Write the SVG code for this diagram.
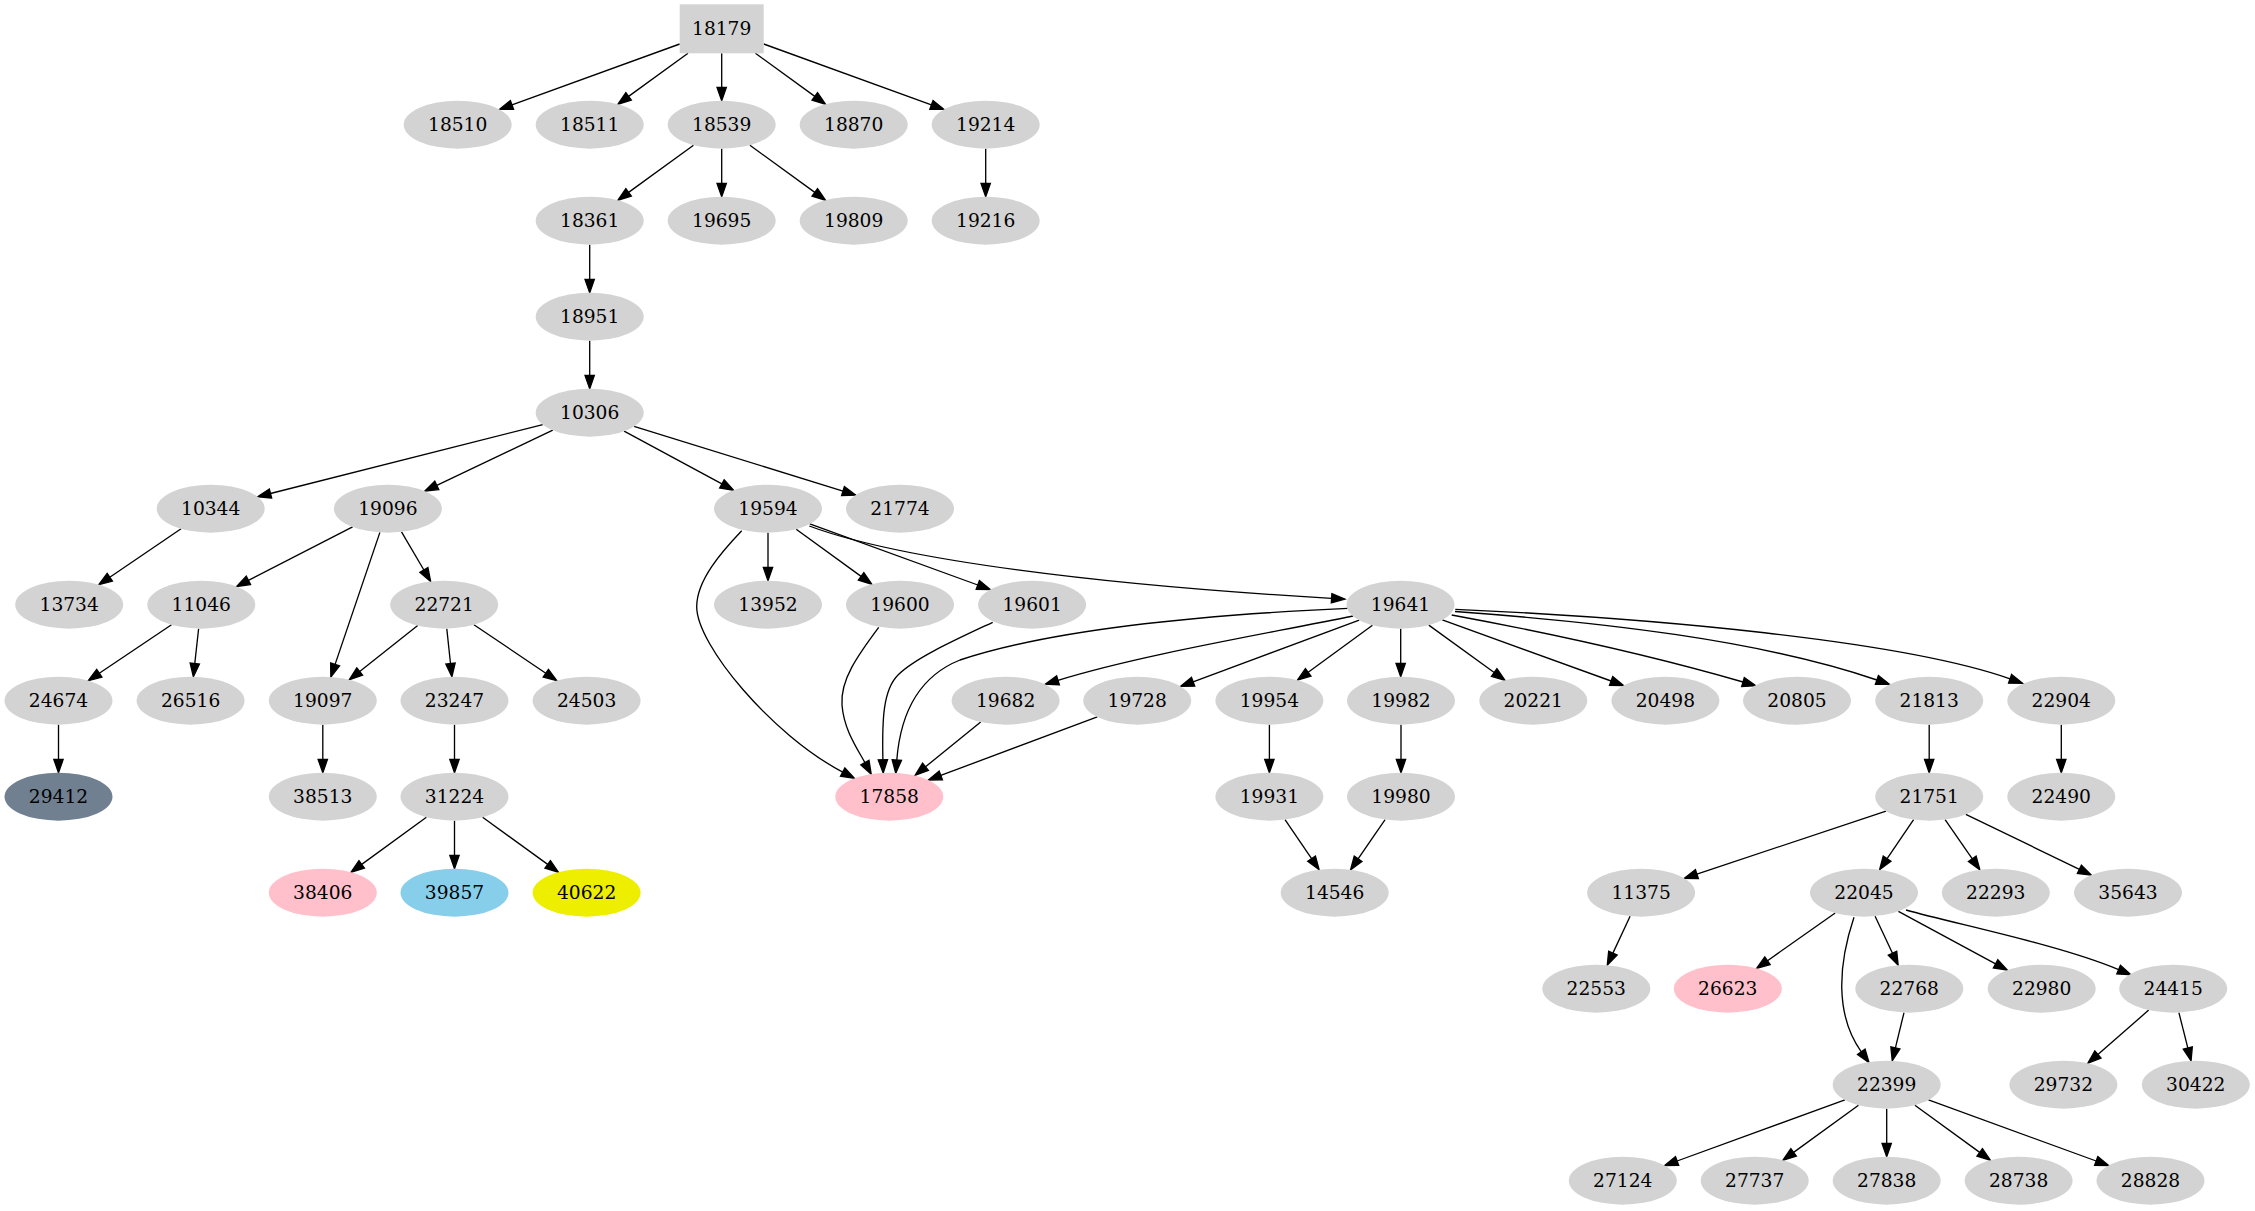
<svg xmlns="http://www.w3.org/2000/svg" width="2255" height="1211" viewBox="0 0 2255 1211">
<style>
.n ellipse,.n rect{fill:#d3d3d3;stroke:none}
.pink ellipse{fill:#ffc0cb}
.slate ellipse{fill:#708090}
.sky ellipse{fill:#87ceeb}
.yel ellipse{fill:#eeee00}
.n text{font-family:"DejaVu Serif","Liberation Serif",serif;font-size:18.67px;text-anchor:middle;fill:#000}
#edges path{fill:none;stroke:#000;stroke-width:1.33;marker-end:url(#ah)}
</style>
<defs>
<marker id="ah" markerUnits="userSpaceOnUse" markerWidth="16" markerHeight="12" refX="0" refY="6" orient="auto" overflow="visible">
<path d="M0,1.33 L13.3,6 L0,10.67 Z" fill="#000" stroke="#000" stroke-width="1.33"/>
</marker>
</defs>
<rect width="2255" height="1211" fill="#fff"/>
<g id="edges">
<path d="M679.7,44 L512,104.9"/>
<path d="M688,53.2 L628.6,96.4"/>
<path d="M721.7,53.2 L721.7,87.4"/>
<path d="M755.4,53.2 L814.8,96.4"/>
<path d="M763.7,44 L931.4,104.9"/>
<path d="M693.5,145.2 L628.6,192.4"/>
<path d="M721.7,148.7 L721.7,183.4"/>
<path d="M749.9,145.2 L814.8,192.4"/>
<path d="M985.7,148.7 L985.7,183.4"/>
<path d="M589.7,244.7 L589.7,279.4"/>
<path d="M589.7,340.7 L589.7,375.4"/>
<path d="M542.8,424.6 L270.5,493.5"/>
<path d="M552.8,430.2 L436.8,485.4"/>
<path d="M624.1,431.2 L721.9,483.9"/>
<path d="M634,426.4 L843,491.1"/>
<path d="M181.1,528.8 L109.8,577.2"/>
<path d="M352.6,526.9 L248.4,580.4"/>
<path d="M379.9,532.4 L335.1,664.4"/>
<path d="M401.5,531.9 L423.9,570"/>
<path d="M171.5,624.7 L99.3,673.3"/>
<path d="M198.6,628.7 L194.8,663.5"/>
<path d="M417.7,625.6 L359.7,671.5"/>
<path d="M446.8,628.7 L450.5,663.5"/>
<path d="M473.9,624.7 L545.8,673.2"/>
<path d="M58.5,724.7 L58.5,759.4"/>
<path d="M322.8,724.7 L322.8,759.4"/>
<path d="M454.5,724.7 L454.5,759.4"/>
<path d="M426.4,817.2 L361.7,864.4"/>
<path d="M454.5,820.7 L454.5,855.4"/>
<path d="M482.6,817.2 L547.7,864.4"/>
<path d="M768,532.7 L768,567.4"/>
<path d="M796.2,529.2 L861.1,576.4"/>
<path d="M809.8,523.9 L977.8,585"/>
<path d="M809.3,526 C900,560 1100,585 1331.6,598.3"/>
<path d="M741.7,530.7 C721.7,551.7 696.7,580 696.7,606.7 C696.7,645 771.9,734.8 842.7,772.1"/>
<path d="M878.7,627.3 C858,655 840,680 842,705 C844,730 857,748 864.9,762.6"/>
<path d="M992.7,622.3 C955,640 915,658 898,675 C883,690 882,720 882.9,759.7"/>
<path d="M1348,608.3 C1200,615 1050,630 960,660 C915,678 900,720 896.8,760"/>
<path d="M980.7,722 L925.5,766.8"/>
<path d="M1097.3,716.9 L940.8,775.4"/>
<path d="M1353.1,616 C1260,635 1140,655 1058,680.3"/>
<path d="M1359.2,620.2 L1193.1,681.8"/>
<path d="M1372.5,625.2 L1308.2,672.3"/>
<path d="M1400.7,628.7 L1400.7,663.4"/>
<path d="M1428.8,625.1 L1494.2,672.5"/>
<path d="M1442.3,619.9 L1611.1,681"/>
<path d="M1451.7,615 C1560,635 1660,658 1743,682"/>
<path d="M1455,611.5 C1600,622 1760,640 1876.9,680"/>
<path d="M1455.3,609.3 C1650,618 1900,640 2010.1,678.8"/>
<path d="M1269.4,724.7 L1269.4,759.4"/>
<path d="M1401,724.7 L1401,759.4"/>
<path d="M1285,819.7 L1311.6,858.7"/>
<path d="M1385.1,819.6 L1358.1,858.8"/>
<path d="M1929.2,724.7 L1929.2,759.4"/>
<path d="M2061.3,724.7 L2061.3,759.4"/>
<path d="M1886,811.1 L1696.9,874.1"/>
<path d="M1913.6,819.7 L1887.1,858.7"/>
<path d="M1945.1,819.6 L1972.3,858.8"/>
<path d="M1965.8,814.4 L2079.4,869.3"/>
<path d="M1630.1,916.2 L1612.9,953.1"/>
<path d="M1835.2,913 L1767.5,960.7"/>
<path d="M1875.1,916.2 L1892.5,953.2"/>
<path d="M1898.4,911.3 L1995.6,963.8"/>
<path d="M1906,910 C1960,925 2060,945 2118.6,969.6"/>
<path d="M1854,917.3 C1838,965 1835,1015 1861.3,1051.8"/>
<path d="M1904,1012.6 L1895.4,1047.9"/>
<path d="M2148.7,1010.1 L2097.9,1054.5"/>
<path d="M2178.9,1012.6 L2187.8,1047.9"/>
<path d="M1844.9,1099.9 L1677.1,1161"/>
<path d="M1858.5,1105.2 L1793.6,1152.4"/>
<path d="M1886.7,1108.7 L1886.7,1143.4"/>
<path d="M1914.9,1105.2 L1979.7,1152.4"/>
<path d="M1928.5,1099.9 L2096.2,1161"/>
</g>
<g id="n18179" class="n"><rect x="679.7" y="4.3" width="84" height="49"/><text x="721.7" y="35">18179</text></g>
<g id="n18510" class="n"><ellipse cx="457.7" cy="124.7" rx="54" ry="24"/><text x="457.7" y="131">18510</text></g>
<g id="n18511" class="n"><ellipse cx="589.7" cy="124.7" rx="54" ry="24"/><text x="589.7" y="131">18511</text></g>
<g id="n18539" class="n"><ellipse cx="721.7" cy="124.7" rx="54" ry="24"/><text x="721.7" y="131">18539</text></g>
<g id="n18870" class="n"><ellipse cx="853.7" cy="124.7" rx="54" ry="24"/><text x="853.7" y="131">18870</text></g>
<g id="n19214" class="n"><ellipse cx="985.7" cy="124.7" rx="54" ry="24"/><text x="985.7" y="131">19214</text></g>
<g id="n18361" class="n"><ellipse cx="589.7" cy="220.7" rx="54" ry="24"/><text x="589.7" y="227">18361</text></g>
<g id="n19695" class="n"><ellipse cx="721.7" cy="220.7" rx="54" ry="24"/><text x="721.7" y="227">19695</text></g>
<g id="n19809" class="n"><ellipse cx="853.7" cy="220.7" rx="54" ry="24"/><text x="853.7" y="227">19809</text></g>
<g id="n19216" class="n"><ellipse cx="985.7" cy="220.7" rx="54" ry="24"/><text x="985.7" y="227">19216</text></g>
<g id="n18951" class="n"><ellipse cx="589.7" cy="316.7" rx="54" ry="24"/><text x="589.7" y="323">18951</text></g>
<g id="n10306" class="n"><ellipse cx="589.7" cy="412.7" rx="54" ry="24"/><text x="589.7" y="419">10306</text></g>
<g id="n10344" class="n"><ellipse cx="210.7" cy="508.7" rx="54" ry="24"/><text x="210.7" y="515">10344</text></g>
<g id="n19096" class="n"><ellipse cx="387.9" cy="508.7" rx="54" ry="24"/><text x="387.9" y="515">19096</text></g>
<g id="n19594" class="n"><ellipse cx="768" cy="508.7" rx="54" ry="24"/><text x="768" y="515">19594</text></g>
<g id="n21774" class="n"><ellipse cx="900" cy="508.7" rx="54" ry="24"/><text x="900" y="515">21774</text></g>
<g id="n13734" class="n"><ellipse cx="69.2" cy="604.7" rx="54" ry="24"/><text x="69.2" y="611">13734</text></g>
<g id="n11046" class="n"><ellipse cx="201.3" cy="604.7" rx="54" ry="24"/><text x="201.3" y="611">11046</text></g>
<g id="n22721" class="n"><ellipse cx="444.2" cy="604.7" rx="54" ry="24"/><text x="444.2" y="611">22721</text></g>
<g id="n13952" class="n"><ellipse cx="768" cy="604.7" rx="54" ry="24"/><text x="768" y="611">13952</text></g>
<g id="n19600" class="n"><ellipse cx="900" cy="604.7" rx="54" ry="24"/><text x="900" y="611">19600</text></g>
<g id="n19601" class="n"><ellipse cx="1032.1" cy="604.7" rx="54" ry="24"/><text x="1032.1" y="611">19601</text></g>
<g id="n19641" class="n"><ellipse cx="1400.5" cy="604.7" rx="54" ry="24"/><text x="1400.5" y="611">19641</text></g>
<g id="n24674" class="n"><ellipse cx="58.5" cy="700.7" rx="54" ry="24"/><text x="58.5" y="707">24674</text></g>
<g id="n26516" class="n"><ellipse cx="190.6" cy="700.7" rx="54" ry="24"/><text x="190.6" y="707">26516</text></g>
<g id="n19097" class="n"><ellipse cx="322.8" cy="700.7" rx="54" ry="24"/><text x="322.8" y="707">19097</text></g>
<g id="n23247" class="n"><ellipse cx="454.5" cy="700.7" rx="54" ry="24"/><text x="454.5" y="707">23247</text></g>
<g id="n24503" class="n"><ellipse cx="586.6" cy="700.7" rx="54" ry="24"/><text x="586.6" y="707">24503</text></g>
<g id="n19682" class="n"><ellipse cx="1005.6" cy="700.7" rx="54" ry="24"/><text x="1005.6" y="707">19682</text></g>
<g id="n19728" class="n"><ellipse cx="1137.2" cy="700.7" rx="54" ry="24"/><text x="1137.2" y="707">19728</text></g>
<g id="n19954" class="n"><ellipse cx="1269.4" cy="700.7" rx="54" ry="24"/><text x="1269.4" y="707">19954</text></g>
<g id="n19982" class="n"><ellipse cx="1401" cy="700.7" rx="54" ry="24"/><text x="1401" y="707">19982</text></g>
<g id="n20221" class="n"><ellipse cx="1533.3" cy="700.7" rx="54" ry="24"/><text x="1533.3" y="707">20221</text></g>
<g id="n20498" class="n"><ellipse cx="1665.4" cy="700.7" rx="54" ry="24"/><text x="1665.4" y="707">20498</text></g>
<g id="n20805" class="n"><ellipse cx="1797" cy="700.7" rx="54" ry="24"/><text x="1797" y="707">20805</text></g>
<g id="n21813" class="n"><ellipse cx="1929.2" cy="700.7" rx="54" ry="24"/><text x="1929.2" y="707">21813</text></g>
<g id="n22904" class="n"><ellipse cx="2061.3" cy="700.7" rx="54" ry="24"/><text x="2061.3" y="707">22904</text></g>
<g id="n29412" class="n slate"><ellipse cx="58.5" cy="796.7" rx="54" ry="24"/><text x="58.5" y="803">29412</text></g>
<g id="n38513" class="n"><ellipse cx="322.8" cy="796.7" rx="54" ry="24"/><text x="322.8" y="803">38513</text></g>
<g id="n31224" class="n"><ellipse cx="454.5" cy="796.7" rx="54" ry="24"/><text x="454.5" y="803">31224</text></g>
<g id="n17858" class="n pink"><ellipse cx="889.3" cy="796.7" rx="54" ry="24"/><text x="889.3" y="803">17858</text></g>
<g id="n19931" class="n"><ellipse cx="1269.4" cy="796.7" rx="54" ry="24"/><text x="1269.4" y="803">19931</text></g>
<g id="n19980" class="n"><ellipse cx="1401" cy="796.7" rx="54" ry="24"/><text x="1401" y="803">19980</text></g>
<g id="n21751" class="n"><ellipse cx="1929.2" cy="796.7" rx="54" ry="24"/><text x="1929.2" y="803">21751</text></g>
<g id="n22490" class="n"><ellipse cx="2061.3" cy="796.7" rx="54" ry="24"/><text x="2061.3" y="803">22490</text></g>
<g id="n38406" class="n pink"><ellipse cx="322.8" cy="892.7" rx="54" ry="24"/><text x="322.8" y="899">38406</text></g>
<g id="n39857" class="n sky"><ellipse cx="454.5" cy="892.7" rx="54" ry="24"/><text x="454.5" y="899">39857</text></g>
<g id="n40622" class="n yel"><ellipse cx="586.6" cy="892.7" rx="54" ry="24"/><text x="586.6" y="899">40622</text></g>
<g id="n14546" class="n"><ellipse cx="1334.7" cy="892.7" rx="54" ry="24"/><text x="1334.7" y="899">14546</text></g>
<g id="n11375" class="n"><ellipse cx="1641.1" cy="892.7" rx="54" ry="24"/><text x="1641.1" y="899">11375</text></g>
<g id="n22045" class="n"><ellipse cx="1864" cy="892.7" rx="54" ry="24"/><text x="1864" y="899">22045</text></g>
<g id="n22293" class="n"><ellipse cx="1995.8" cy="892.7" rx="54" ry="24"/><text x="1995.8" y="899">22293</text></g>
<g id="n35643" class="n"><ellipse cx="2128" cy="892.7" rx="54" ry="24"/><text x="2128" y="899">35643</text></g>
<g id="n22553" class="n"><ellipse cx="1596.3" cy="988.7" rx="54" ry="24"/><text x="1596.3" y="995">22553</text></g>
<g id="n26623" class="n pink"><ellipse cx="1727.8" cy="988.7" rx="54" ry="24"/><text x="1727.8" y="995">26623</text></g>
<g id="n22768" class="n"><ellipse cx="1909.3" cy="988.7" rx="54" ry="24"/><text x="1909.3" y="995">22768</text></g>
<g id="n22980" class="n"><ellipse cx="2041.7" cy="988.7" rx="54" ry="24"/><text x="2041.7" y="995">22980</text></g>
<g id="n24415" class="n"><ellipse cx="2173.2" cy="988.7" rx="54" ry="24"/><text x="2173.2" y="995">24415</text></g>
<g id="n22399" class="n"><ellipse cx="1886.7" cy="1084.7" rx="54" ry="24"/><text x="1886.7" y="1091">22399</text></g>
<g id="n29732" class="n"><ellipse cx="2063.4" cy="1084.7" rx="54" ry="24"/><text x="2063.4" y="1091">29732</text></g>
<g id="n30422" class="n"><ellipse cx="2195.8" cy="1084.7" rx="54" ry="24"/><text x="2195.8" y="1091">30422</text></g>
<g id="n27124" class="n"><ellipse cx="1622.8" cy="1180.7" rx="54" ry="24"/><text x="1622.8" y="1187">27124</text></g>
<g id="n27737" class="n"><ellipse cx="1754.7" cy="1180.7" rx="54" ry="24"/><text x="1754.7" y="1187">27737</text></g>
<g id="n27838" class="n"><ellipse cx="1886.7" cy="1180.7" rx="54" ry="24"/><text x="1886.7" y="1187">27838</text></g>
<g id="n28738" class="n"><ellipse cx="2018.6" cy="1180.7" rx="54" ry="24"/><text x="2018.6" y="1187">28738</text></g>
<g id="n28828" class="n"><ellipse cx="2150.5" cy="1180.7" rx="54" ry="24"/><text x="2150.5" y="1187">28828</text></g>
</svg>
